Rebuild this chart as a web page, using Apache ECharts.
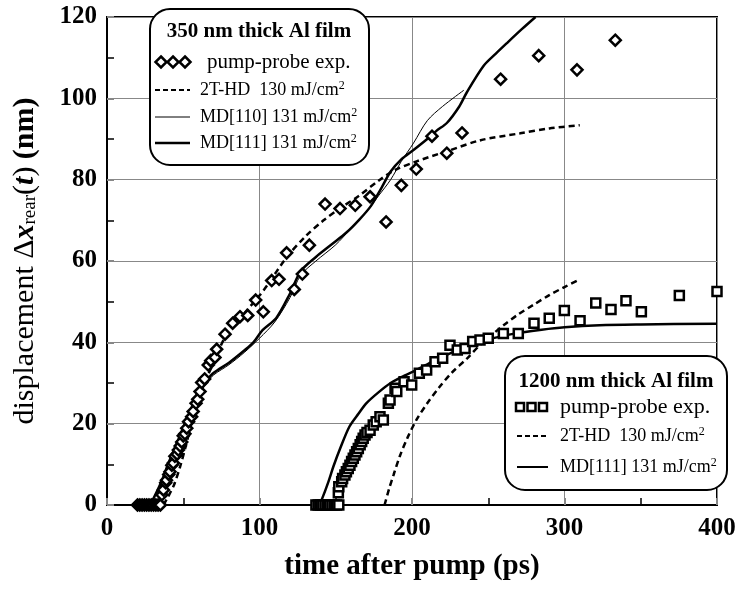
<!DOCTYPE html>
<html>
<head>
<meta charset="utf-8">
<script src="https://cdn.jsdelivr.net/npm/echarts@6/dist/echarts.min.js"></script>
<style>html,body{margin:0;padding:0;background:#fff}#main{width:740px;height:589px}</style>
</head>
<body>
<div id="main"></div>
<script>
// 350 nm film: [time ps, displacement nm]
var exp350 = [[20,0],[21.5,0],[23,0],[24.5,0],[26,0],[27.5,0],[29,0],[30.5,0],[32,0],[33.5,0],[35,0],
    [36,2.5],[37,3.7],[38.5,5.5],[39,6.1],[40.5,7.5],[41.3,8.2],[42.5,9.8],[43.5,10.3],[44.5,12],[46,12.5],
    [46.8,13.5],[48,14.5],[49,15.5],[50,17],[51.1,17.5],[52.3,18.9],[53.5,20.5],[55.5,21.7],[56.5,23],[58.4,25],
    [59.5,26],[61,27.9],[62.1,30.1],[64,31],[66.4,34.4],[68,35.5],[70.8,36.3],[71.9,38.3],[77.4,42],[82.4,44.7],
    [87.2,46.3],[92.3,46.6],[97.5,50.4],[102.5,47.5],[108,55.2],[112.8,55.5],[117.8,62],[122.8,53],[128.1,56.8],
    [132.7,63.9],[143,74],[152.8,72.9],[162.8,73.7],[172.5,75.8],[183,69.6],[193,78.6],[202.8,82.6],[213.1,90.7],
    [222.8,86.5],[232.8,91.5],[258.1,104.7],[283.1,110.5],[308.2,107],[333.3,114.3]];
var hd350 = [[37,0],[40,2],[44,5],[48,9.5],[52,15],[56,21],[60,26],[65,31],[70,35],[77,41],[85,45],[92,48],
    [100,51.5],[105,54],[118,61],[130,66],[142,70],[153,73],[165,76],[179,80],[189,82.4],[203,84.5],[223,87],
    [245,89.7],[271,91.4],[290,92.6],[310,93.4]];
var md110_350 = [[29,0],[31,2],[36,6],[40,10],[45,14.5],[50,19],[55,23.5],[60,28],[65,30],[70,32],[80,34.5],
    [90,37.5],[100,41],[110,45],[120,51],[127,56.5],[137,60],[150,64],[160,68],[170,72],[178,76],[186,80],
    [193,84.5],[201,89],[210,94.5],[220,98],[234,102]];
var md111_350 = [[28,0],[31,2],[36,6],[40,10],[45,14.5],[50,19],[55,23.5],[60,28],[65,30.5],[70,32.5],[80,35],
    [90,38],[96,40],[102,43],[111,46],[120,52],[127,57.5],[137,61],[147,64],[157,67],[165,70],[173,73.5],
    [180,78],[186,82],[193,85],[201,87.3],[210,90],[216,92],[223,94],[231,98],[236,101.5],[247,108],[255,111],
    [262,113.5],[272,117],[281,120]];

// 1200 nm film
var exp1200 = [[137,0],[138.5,0],[140,0],[141.5,0],[143,0],[144.5,0],[146,0],[147.5,0],[149,0],[150.5,0],[152,0],
    [151.7,3],[152,4.5],[153.9,5.7],[154.5,6.5],[156,7.4],[157,8.2],[158.2,9],[159.3,9.8],[160.4,10.7],[161.5,11.5],
    [162.6,12.3],[163.7,13.1],[164.8,13.9],[166,14.8],[167,15.6],[168,16.4],[169.2,17.2],[170.5,17.8],[172.5,18.4],
    [174.6,19.7],[176.5,20.5],[179,21.7],[181.2,20.9],[184.5,25],[185.6,25.8],[188.9,28.7],[190,27.9],[194.8,30.3],
    [199.8,29.5],[204.8,32.4],[209.6,33.2],[215.1,35.2],[220.1,36.1],[224.9,39.3],[229.7,38.1],[234.8,38.5],
    [239.8,40.2],[244.6,40.6],[250,41],[259.9,42.2],[269.7,42.2],[280,44.7],[290,45.9],[299.9,47.8],[310.2,45.3],
    [320.5,49.7],[330.5,48.1],[340.3,50.2],[350.4,47.5],[375.3,51.5],[400,52.5]];
var hd1200 = [[182,0],[185,4],[188,7.5],[192,12],[197,16.5],[203,21],[210,25],[218,29],[226,32.5],[236,36],
    [245,39.5],[251,41.4],[260,44.2],[269,46.7],[280,49.3],[290,51.6],[300,53.6],[310,55.5]];
var md1200 = [[139,0],[141,1.5],[145,5.5],[148.4,9.4],[153,14],[159,19.3],[165,22.5],[170,25],[178,27.7],
    [186,30],[195,31.8],[203,33.2],[214,35.4],[225,37.3],[237,39],[249,40.6],[268,42.2],[285,43.1],[300,43.7],
    [323,44.2],[350,44.4],[400,44.6]];

var xTicks = [0, 100, 200, 300, 400];
var yTicks = [0, 20, 40, 60, 80, 100, 120];

var serif = 'Liberation Serif';
var myChart = echarts.init(document.getElementById('main'));

function lineSeries(name, data, width, dash) {
    return {
        name: name, type: 'line', data: data, symbol: 'none', smooth: 0.3, z: 2,
        lineStyle: { color: '#000', width: width, type: dash ? [6, 4] : 'solid' }
    };
}
function scatterSeries(name, data, symbol, size) {
    return {
        name: name, type: 'scatter', data: data, symbol: symbol, symbolSize: size, z: 3,
        itemStyle: { color: '#fff', borderColor: '#000', borderWidth: 2.5, opacity: 1 }
    };
}

// legend boxes (drawn as graphics)
function txt(x, y, text, size, bold, align) {
    return {
        type: 'text', x: x, y: y, z: 101,
        style: {
            text: text, fontFamily: serif, fontSize: size, fontWeight: bold ? 'bold' : 'normal',
            fill: '#000', align: align || 'left', verticalAlign: 'middle',
            rich: { sup: { fontFamily: serif, fontSize: Math.round(size * 0.65), verticalAlign: 'top', padding: [0, 0, 9, 0] } }
        }
    };
}
function diamond(x, y) {
    return { type: 'polygon', z: 101, shape: { points: [[x, y - 5.5], [x + 5.5, y], [x, y + 5.5], [x - 5.5, y]] },
        style: { fill: '#fff', stroke: '#000', lineWidth: 2.5 } };
}
function square(x, y) {
    return { type: 'rect', z: 101, shape: { x: x - 4, y: y - 4, width: 8, height: 8 },
        style: { fill: '#fff', stroke: '#000', lineWidth: 2.5 } };
}
function seg(x1, x2, y, w, dash) {
    return { type: 'line', z: 101, shape: { x1: x1, y1: y, x2: x2, y2: y },
        style: { stroke: '#000', lineWidth: w, lineDash: dash ? [5, 3] : null } };
}
function box(x, y, w, h) {
    return { type: 'rect', z: 100, shape: { x: x, y: y, width: w, height: h, r: 20 },
        style: { fill: '#fff', stroke: '#000', lineWidth: 2 } };
}

var graphics = [
    box(150, 9, 219, 156),
    txt(259, 32, '350 nm thick Al film', 21, true, 'center'),
    diamond(161, 62), diamond(173, 62), diamond(185, 62),
    txt(207, 62, 'pump-probe exp.', 21),
    seg(155, 190, 90, 2, true),
    txt(200, 90, '2T-HD  130 mJ/cm{sup|2}', 18),
    seg(155, 190, 117, 1),
    txt(200, 117, 'MD[110] 131 mJ/cm{sup|2}', 18),
    seg(155, 190, 143, 2.5),
    txt(200, 143, 'MD[111] 131 mJ/cm{sup|2}', 18),

    box(505, 356, 222, 134),
    txt(616, 382, '1200 nm thick Al film', 21, true, 'center'),
    square(520, 407), square(531.5, 407), square(543, 407),
    txt(560, 407, 'pump-probe exp.', 22),
    seg(517, 548, 436, 2, true),
    txt(560, 436, '2T-HD  130 mJ/cm{sup|2}', 18),
    seg(517, 548, 467, 2),
    txt(560, 467, 'MD[111] 131 mJ/cm{sup|2}', 18)
];

option = {
    backgroundColor: '#fff',
    animation: false,
    grid: {
        left: 107, right: 23, top: 17, bottom: 84,
        outerBoundsMode: 'none', containLabel: false,
        show: true, borderColor: '#000', borderWidth: 2
    },
    xAxis: {
        type: 'value', min: 0, max: 400, interval: 100,
        name: 'time after pump (ps)', nameLocation: 'middle', nameGap: 47,
        nameTextStyle: { fontFamily: serif, fontSize: 29, fontWeight: 'bold', color: '#000' },
        axisLine: { lineStyle: { color: '#000', width: 2 } },
        axisTick: { inside: true, length: 7, lineStyle: { color: '#888', width: 2 } },
        minorTick: { show: true, splitNumber: 2, length: 7, lineStyle: { color: '#000', width: 1.5 } },
        splitLine: { lineStyle: { color: '#888', width: 1 } },
        axisLabel: {
            margin: 11, fontFamily: serif, fontSize: 25, fontWeight: 'bold', color: '#000',
            formatter: function (v) { return xTicks.indexOf(v) >= 0 ? String(v) : ''; }
        }
    },
    yAxis: {
        type: 'value', min: 0, max: 120, interval: 20,
        name: 'displacement Δ{xi|x}{sub|rear}({ti|t}) {b|(nm)}', nameLocation: 'middle', nameGap: 67,
        nameRotate: 90,
        nameTextStyle: {
            fontFamily: serif, fontSize: 30, color: '#000',
            rich: {
                xi: { fontFamily: serif, fontSize: 30, fontWeight: 'bold', fontStyle: 'italic' },
                ti: { fontFamily: serif, fontSize: 30, fontWeight: 'bold', fontStyle: 'italic' },
                b: { fontFamily: serif, fontSize: 30, fontWeight: 'bold' },
                sub: { fontFamily: serif, fontSize: 19, verticalAlign: 'bottom', padding: [10, 0, 0, 0] }
            }
        },
        axisLine: { lineStyle: { color: '#000', width: 2 } },
        axisTick: { inside: true, length: 7, lineStyle: { color: '#888', width: 2 } },
        minorTick: { show: true, splitNumber: 2, length: 7, lineStyle: { color: '#000', width: 1.5 } },
        splitLine: { lineStyle: { color: '#888', width: 1 } },
        axisLabel: {
            margin: 10, fontFamily: serif, fontSize: 25, fontWeight: 'bold', color: '#000',
            formatter: function (v) { return yTicks.indexOf(v) >= 0 ? String(v) : ''; }
        }
    },
    series: [
        lineSeries('2T-HD 350', hd350, 2.5, true),
        lineSeries('MD[110] 350', md110_350, 1, false),
        lineSeries('MD[111] 350', md111_350, 2.5, false),
        scatterSeries('pump-probe 350', exp350, 'diamond', 11),
        lineSeries('2T-HD 1200', hd1200, 2.5, true),
        lineSeries('MD[111] 1200', md1200, 2.5, false),
        scatterSeries('pump-probe 1200', exp1200, 'rect', 9)
    ],
    graphic: graphics
};
myChart.setOption(option);
</script>
</body>
</html>
